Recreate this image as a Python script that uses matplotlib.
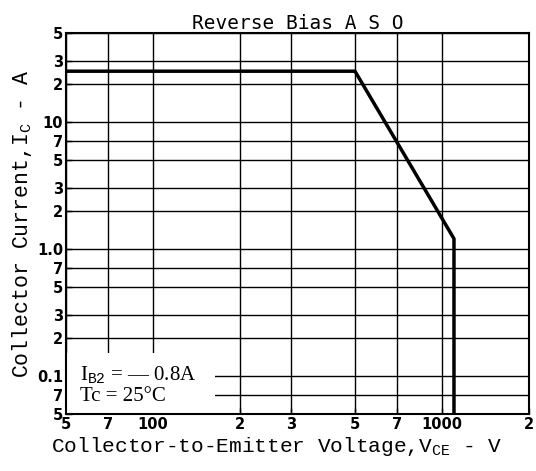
import matplotlib
matplotlib.use("Agg")
import matplotlib.pyplot as plt
from matplotlib.patches import Rectangle
from matplotlib.ticker import FixedLocator, NullLocator

# reverse bias ASO boundary
vce = [50, 500, 1100, 1100]
ic = [25, 25, 1.2, 0.05]

xticks = [50, 70, 100, 200, 300, 500, 700, 1000, 2000]
xlabels = ["5", "7", "100", "2", "3", "5", "7", "1000", "2"]
yticks = [50, 30, 20, 10, 7, 5, 3, 2, 1.0, 0.7, 0.5, 0.3, 0.2, 0.1, 0.07, 0.05]
ylabels = ["5", "3", "2", "10", "7", "5", "3", "2", "1.0", "7", "5", "3", "2", "0.1", "7", "5"]

plt.rcParams["mathtext.fontset"] = "custom"
plt.rcParams["mathtext.rm"] = "Liberation Mono"
plt.rcParams["mathtext.it"] = "Liberation Mono"

fig = plt.figure(figsize=(5.36, 4.71), dpi=100)
ax = fig.add_axes([0.123, 0.121, 0.864, 0.809])
ax.set_xscale("log")
ax.set_yscale("log")
ax.set_xlim(50, 2000)
ax.set_ylim(0.05, 50)

ax.xaxis.set_major_locator(FixedLocator(xticks))
ax.xaxis.set_minor_locator(NullLocator())
ax.yaxis.set_major_locator(FixedLocator(yticks))
ax.yaxis.set_minor_locator(NullLocator())
ax.set_xticklabels(xlabels, fontweight="bold", fontsize=10.5, family="DejaVu Sans")
ax.set_yticklabels(ylabels, fontweight="bold", fontsize=10.5, family="DejaVu Sans")
ax.tick_params(length=4, width=1, direction="in", pad=2)

ax.grid(True, which="major", color="black", linewidth=1.0)
for s in ax.spines.values():
    s.set_linewidth(1.5)

# white patch behind the condition note
ax.add_patch(Rectangle((50, 0.05), 164 - 50, 0.151 - 0.05, facecolor="white",
                       edgecolor="none", zorder=2))

ax.plot(vce, ic, color="black", linewidth=2.5, zorder=5)

ax.text(56, 0.101, "I$_{\\mathrm{B2}}$ = \u2014 0.8A", family="Liberation Serif",
        fontsize=15, va="center", ha="left", zorder=6)
ax.text(56, 0.069, "Tc = 25\u00b0C", family="Liberation Serif",
        fontsize=15, va="center", ha="left", zorder=6)

ax.set_title("Reverse Bias A S O", family="DejaVu Sans Mono", fontsize=14, pad=2)
ax.set_xlabel("Collector-to-Emitter Voltage,V$_{\\mathrm{CE}}$ - V", family="Liberation Mono",
              fontsize=15.2)
ax.xaxis.set_label_coords(0.456, -0.055)
ax.set_ylabel("Collector Current,I$_{\\mathrm{C}}$ - A", family="Liberation Mono",
              fontsize=15.5, labelpad=2)

fig.savefig("out.png", dpi=100)
